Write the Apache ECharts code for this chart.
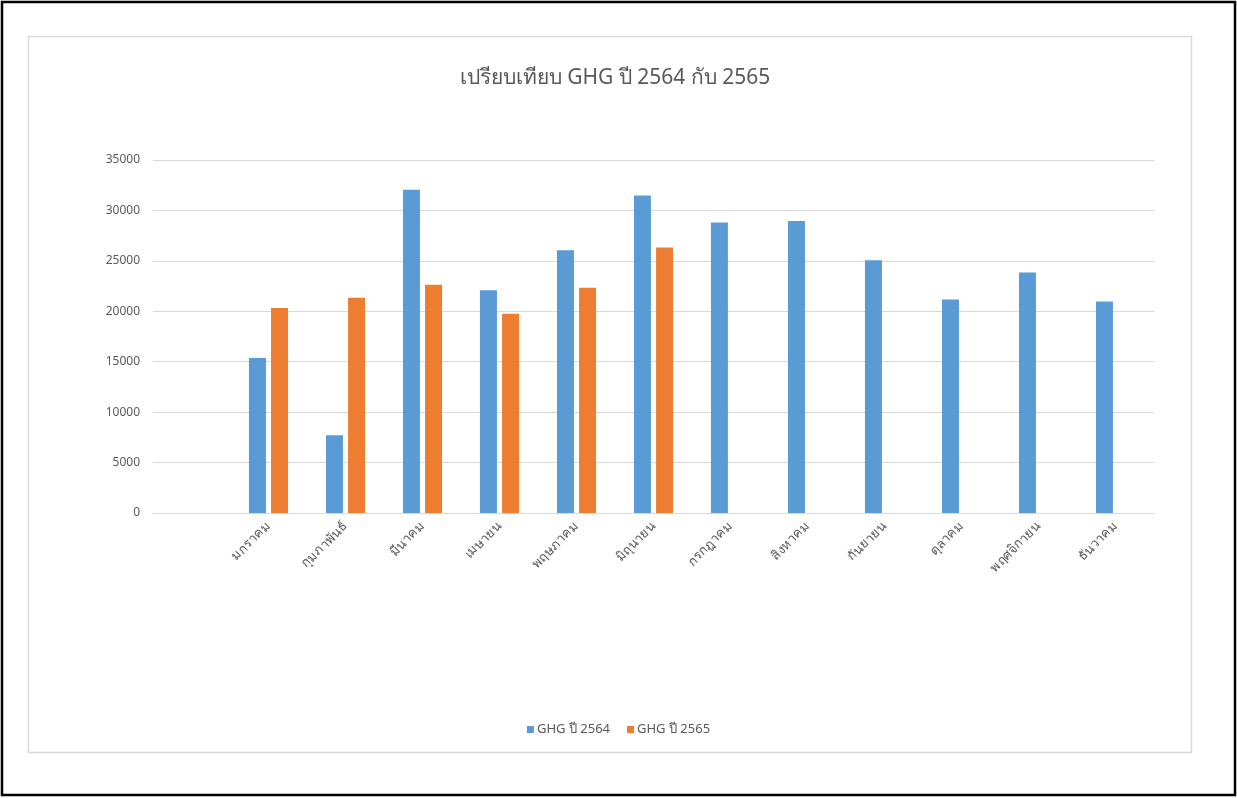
<!DOCTYPE html>
<html>
<head>
<meta charset="utf-8">
<style>
  html, body { margin: 0; padding: 0; background: #fff; }
  #chart { width: 1237px; height: 798px; }
</style>
<script src="https://cdn.jsdelivr.net/npm/echarts@6/dist/echarts.min.js"></script>
</head>
<body>
<div id="chart"></div>
<script>
// Month categories (the sheet has a leading blank row, kept as an empty slot)
const months = ['', 'มกราคม', 'กุมภาพันธ์', 'มีนาคม', 'เมษายน', 'พฤษภาคม', 'มิถุนายน',
  'กรกฎาคม', 'สิงหาคม', 'กันยายน', 'ตุลาคม', 'พฤศจิกายน', 'ธันวาคม'];

// GHG emissions per month
const ghg2564 = [null, 15360, 7720, 32040, 22080, 26040, 31490, 28810, 28950, 25070, 21160, 23840, 20970];
const ghg2565 = [null, 20330, 21350, 22630, 19760, 22340, 26320, null, null, null, null, null, null];

const seriesNames = ['GHG ปี 2564', 'GHG ปี 2565'];
const titleText = 'เปรียบเทียบ GHG ปี 2564 กับ 2565';

const FONT = '"Noto Sans", "DejaVu Sans", sans-serif';
const TEXT = '#595959';

const chart = echarts.init(document.getElementById('chart'), null, { renderer: 'canvas' });
chart.setOption({
  animation: false,
  backgroundColor: '#fff',
  textStyle: { fontFamily: FONT },
  title: {
    text: titleText,
    left: 610,
    textAlign: 'center',
    top: 63,
    textStyle: { fontFamily: FONT, fontSize: 21, fontWeight: 'normal', color: TEXT }
  },
  legend: {
    data: seriesNames,
    bottom: 57,
    left: 'center',
    itemWidth: 7,
    itemHeight: 7,
    itemGap: 17,
    icon: 'rect',
    textStyle: { fontFamily: FONT, fontSize: 13, color: TEXT, padding: [0, 0, 0, -2] }
  },
  grid: { left: 153, right: 83, top: 160, bottom: 285, containLabel: false },
  xAxis: {
    type: 'category',
    data: months,
    axisLine: { lineStyle: { color: '#D9D9D9', width: 1 } },
    axisTick: { show: false },
    axisLabel: { rotate: 45, color: TEXT, fontSize: 13, fontFamily: FONT, margin: 11, interval: 0 }
  },
  yAxis: {
    type: 'value',
    min: 0,
    max: 35000,
    interval: 5000,
    axisLine: { show: false },
    axisTick: { show: false },
    splitLine: { lineStyle: { color: '#D9D9D9', width: 1 } },
    axisLabel: { color: TEXT, fontSize: 12, fontFamily: FONT, margin: 13,
      formatter: (v) => String(v) }
  },
  series: [
    { name: seriesNames[0], type: 'bar', data: ghg2564, barWidth: 17, barGap: '30%',
      itemStyle: { color: '#5B9BD5' } },
    { name: seriesNames[1], type: 'bar', data: ghg2565, barWidth: 17, barGap: '30%',
      itemStyle: { color: '#ED7D31' } }
  ],
  graphic: [
    { type: 'rect', silent: true, z: 100,
      shape: { x: 2, y: 2, width: 1233, height: 793 },
      style: { fill: 'none', stroke: '#000', lineWidth: 2.5 } },
    { type: 'rect', silent: true, z: 100,
      shape: { x: 28.5, y: 36.5, width: 1163, height: 716 },
      style: { fill: 'none', stroke: '#D9D9D9', lineWidth: 1.5 } }
  ]
});
</script>
</body>
</html>
